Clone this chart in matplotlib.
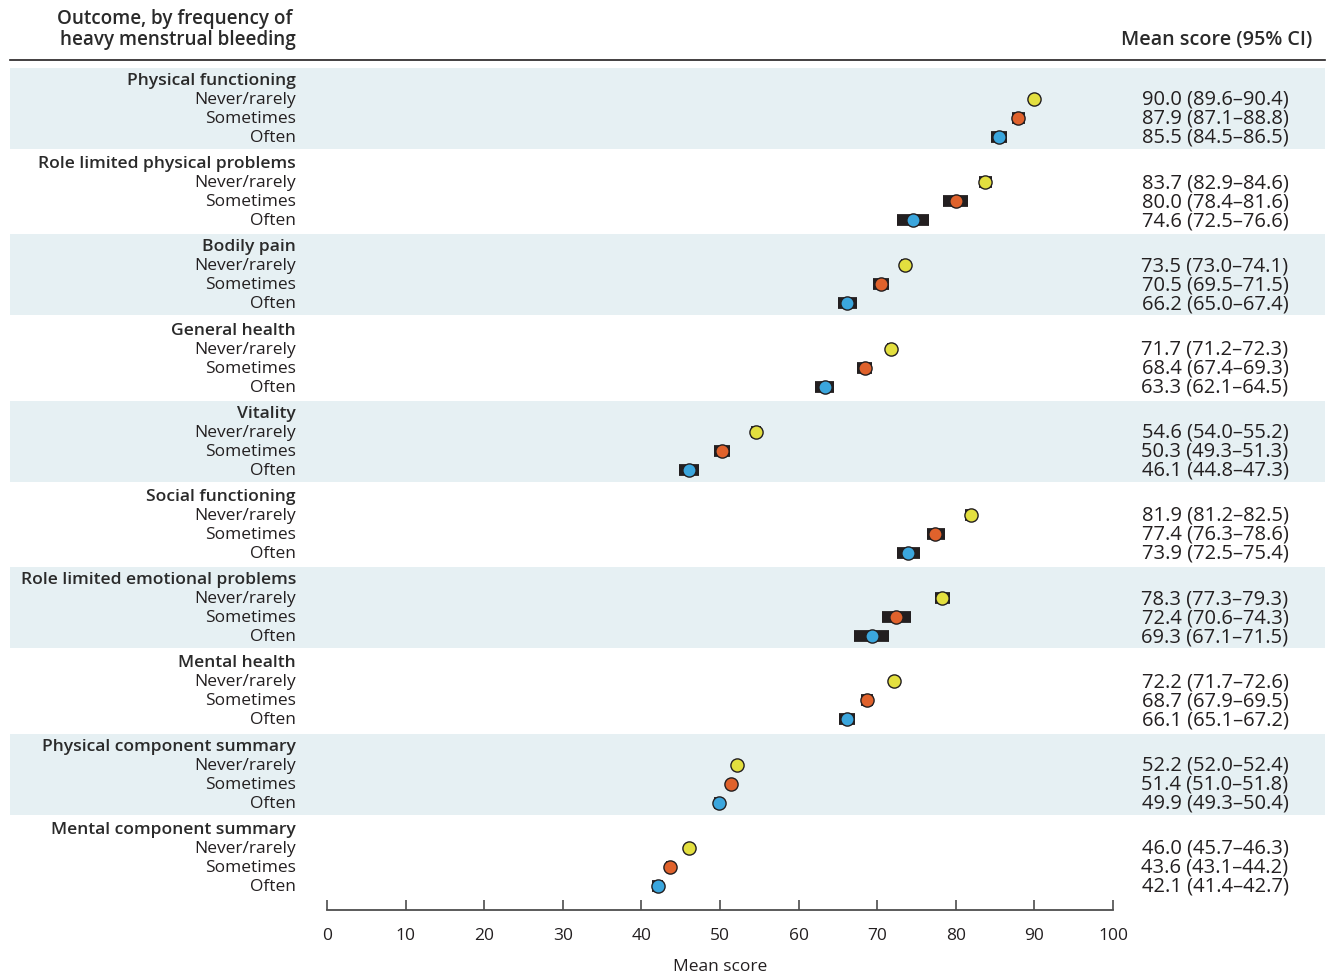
import matplotlib
matplotlib.use("Agg")
import matplotlib.pyplot as plt
import matplotlib.transforms as mtransforms
from matplotlib.patches import Rectangle

plt.rcParams["font.family"] = ["Open Sans", "DejaVu Sans"]
TXT = "#231f20"

outcomes = ["Physical functioning", "Role limited physical problems", "Bodily pain",
            "General health", "Vitality", "Social functioning",
            "Role limited emotional problems", "Mental health",
            "Physical component summary", "Mental component summary"]
levels = ["Never/rarely", "Sometimes", "Often"]

never = [90.0, 83.7, 73.5, 71.7, 54.6, 81.9, 78.3, 72.2, 52.2, 46.0]
never_lo = [89.6, 82.9, 73.0, 71.2, 54.0, 81.2, 77.3, 71.7, 52.0, 45.7]
never_hi = [90.4, 84.6, 74.1, 72.3, 55.2, 82.5, 79.3, 72.6, 52.4, 46.3]
sometimes = [87.9, 80.0, 70.5, 68.4, 50.3, 77.4, 72.4, 68.7, 51.4, 43.6]
sometimes_lo = [87.1, 78.4, 69.5, 67.4, 49.3, 76.3, 70.6, 67.9, 51.0, 43.1]
sometimes_hi = [88.8, 81.6, 71.5, 69.3, 51.3, 78.6, 74.3, 69.5, 51.8, 44.2]
often = [85.5, 74.6, 66.2, 63.3, 46.1, 73.9, 69.3, 66.1, 49.9, 42.1]
often_lo = [84.5, 72.5, 65.0, 62.1, 44.8, 72.5, 67.1, 65.1, 49.3, 41.4]
often_hi = [86.5, 76.6, 67.4, 64.5, 47.3, 75.4, 71.5, 67.2, 50.4, 42.7]

series = [(never, never_lo, never_hi, "#e3df3f"),
          (sometimes, sometimes_lo, sometimes_hi, "#e0622c"),
          (often, often_lo, often_hi, "#3ba6dd")]

W, H = 1330, 977
fig = plt.figure(figsize=(W / 100, H / 100), dpi=100)

# axes: x 0..100 maps to pixel 327..1113, bottom spine at pixel 910
top_px, bot_px = 60, 910
ax = fig.add_axes([327 / W, (H - bot_px) / H, 786 / W, (bot_px - top_px) / H])
row = 19.0  # px per row
ax.set_xlim(0, 100)
ax.set_ylim((bot_px - 80) / row, (top_px - 80) / row)

group_step = 83.2 / row
trans_lab = mtransforms.blended_transform_factory(fig.transFigure, ax.transData)
dy = 0.05  # nudge text down to line up with markers

for g, name in enumerate(outcomes):
    y0 = g * group_step
    if g % 2 == 0:
        ax.add_patch(Rectangle((10 / W, y0 - 0.63), 1315 / W, 3 + 1.26,
                               transform=trans_lab, facecolor="#e6f0f3",
                               edgecolor="none", clip_on=False, zorder=0))
    ax.text(296 / W, y0 + dy, name, transform=trans_lab, ha="right", va="center",
            fontsize=12.6, fontweight="semibold", color="#2a2a2a")
    for k, (vals, lo, hi, col) in enumerate(series):
        y = y0 + k + 1
        ax.text(296 / W, y + dy, levels[k], transform=trans_lab, ha="right",
                va="center", fontsize=12.5, color=TXT)
        ax.hlines(y, lo[g], hi[g], color="#231f20", lw=8.5, capstyle="butt",
                  zorder=2)
        ax.plot(vals[g], y, "o", ms=9.5, mfc=col, mec="#231f20", mew=1.0,
                zorder=3)
        ax.text(1215 / W, y + dy, f"{vals[g]:.1f} ({lo[g]:.1f}–{hi[g]:.1f})",
                transform=trans_lab, ha="center", va="center", fontsize=14.5,
                color=TXT)

for s in ["top", "left", "right"]:
    ax.spines[s].set_visible(False)
ax.spines["bottom"].set_color("#4d4d4d")
ax.spines["bottom"].set_linewidth(1.3)
ax.set_yticks([])
ax.set_xticks(range(0, 101, 10))
ax.tick_params(axis="x", direction="in", length=7, width=1.2, color="#4d4d4d",
               pad=13, labelsize=12.5, labelcolor=TXT)
ax.set_xlabel("Mean score", fontsize=12.5, color=TXT, labelpad=11)

# header
fig.add_artist(plt.Line2D([10 / W, 1325 / W], [1 - 60 / H, 1 - 60 / H],
                          color="#231f20", lw=1.2))
fig.text(292 / W, 1 - 19 / H, "Outcome, by frequency of", ha="right",
         va="center", fontsize=13.6, fontweight="semibold", color="#2a2a2a")
fig.text(296 / W, 1 - 40 / H, "heavy menstrual bleeding", ha="right",
         va="center", fontsize=13.6, fontweight="semibold", color="#2a2a2a")
fig.text(1312 / W, 1 - 40 / H, "Mean score (95% CI)", ha="right",
         va="center", fontsize=14.2, fontweight="semibold", color="#2a2a2a")

fig.savefig("out.png", dpi=100, facecolor="white")
